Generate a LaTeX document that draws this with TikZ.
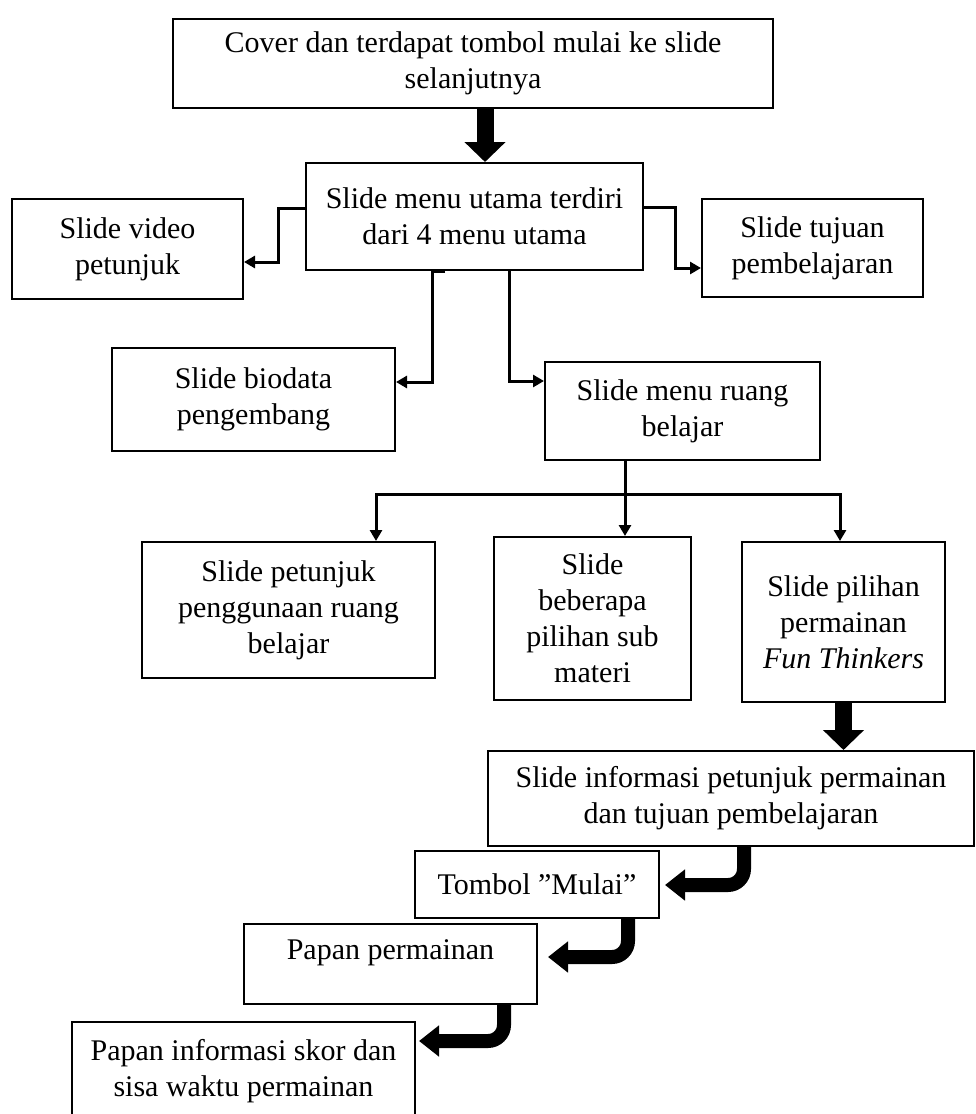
\documentclass[tikz,border=0pt]{standalone}
\usepackage{fontspec}
\setmainfont{Liberation Serif}
\usetikzlibrary{arrows.meta,calc}
\begin{document}
\begin{tikzpicture}[x=0.5pt,y=-0.5pt,
  box/.style={draw=black, line width=1pt, align=center, inner sep=0pt,
    font=\fontsize{15}{18}\selectfont},
  thinarr/.style={line width=1.5pt, -{Triangle[width=6pt,length=5.5pt]}},
  bigarr/.style={line width=8.5pt, -{Triangle[width=20pt,length=10pt]}},
  bentarr/.style={line width=7pt, rounded corners=8pt, -{Triangle[width=15pt,length=10pt]}}]
\useasboundingbox (0,0) rectangle (975,1114);

% boxes
\node[box, minimum width=300pt, minimum height=44.5pt] (cover) at (473,63.5)
  {Cover dan terdapat tombol mulai ke slide\\selanjutnya};
\node[box, minimum width=168.5pt, minimum height=53.5pt] (menu) at (474.5,216.5)
  {Slide menu utama terdiri\\dari 4 menu utama};
\node[box, minimum width=115.5pt, minimum height=50pt] (video) at (127.5,249)
  {Slide video\\petunjuk};
\node[box, minimum width=110.5pt, minimum height=49pt] (tujuan) at (812.5,248)
  {Slide tujuan\\pembelajaran};
\node[box, minimum width=141.5pt, minimum height=51.5pt] (biodata) at (253.5,399.5)
  {Slide biodata\\pengembang};
\node[box, minimum width=137.5pt, minimum height=49pt] (ruang) at (682.5,411)
  {Slide menu ruang\\belajar};
\node[box, minimum width=146.5pt, minimum height=68pt] (petunjuk) at (288.5,610)
  {Slide petunjuk\\penggunaan ruang\\belajar};
\node[box, minimum width=98.5pt, minimum height=81.5pt] (sub) at (592.5,618.5)
  {Slide\\beberapa\\pilihan sub\\materi};
\node[box, minimum width=101.5pt, minimum height=80pt] (pilihan) at (843.5,622)
  {Slide pilihan\\permainan\\\textit{Fun Thinkers}};
\node[box, minimum width=243pt, minimum height=47.5pt] (info) at (731,798.5)
  {Slide informasi petunjuk permainan\\dan tujuan pembelajaran};
\node[box, minimum width=122pt, minimum height=33.5pt] (tombol) at (537,884.5)
  {Tombol ”Mulai”};
\node[box, minimum width=146.5pt, minimum height=40pt, text height=10.3pt, text depth=15.3pt] (papan) at (390.5,964)
  {Papan permainan};
\node[box, minimum width=171.5pt, minimum height=49pt] (skor) at (243.5,1071)
  {Papan informasi skor dan\\sisa waktu permainan};

% bend points
\coordinate (cm) at (485,0);
\coordinate (mvA) at (278,208);
\coordinate (mvB) at (278,262);
\coordinate (mtA) at (675,207);
\coordinate (mtB) at (675,268);
\coordinate (mb) at (432,382);
\coordinate (mr) at (509,381);
\coordinate (rb) at (625,494);
\coordinate (rl) at (376,494);
\coordinate (rr) at (840,494);
\coordinate (ib) at (744,885);
\coordinate (tb) at (628,957);
\coordinate (pb) at (504,1041);

% connectors
\draw[bigarr] (cm |- cover.south) -- (cm |- menu.north);
\draw[thinarr] (mvA -| menu.west) -- (mvA) -- (mvB) -- (mvB -| video.east);
\draw[thinarr] (mtA -| menu.east) -- (mtA) -- (mtB) -- (mtB -| tujuan.west);
\draw[thinarr] ([xshift=6.5pt]mb |- menu.south) -- (mb |- menu.south) -- (mb) -- (mb -| biodata.east);
\draw[thinarr] (mr |- menu.south) -- (mr) -- (mr -| ruang.west);
\draw[thinarr] (rb |- ruang.south) -- (rb |- sub.north);
\draw[thinarr, {Triangle[width=6pt,length=5.5pt]}-{Triangle[width=6pt,length=5.5pt]}]
  (rl |- petunjuk.north) -- (rl) -- (rr) -- (rr |- pilihan.north);
\draw[bigarr] (pilihan.south) -- (pilihan.south |- info.north);
\draw[bentarr, shorten >=2.5pt] (ib |- info.south) -- (ib) -- (ib -| tombol.east);
\draw[bentarr, shorten >=5pt] (tb |- tombol.south) -- (tb) -- (tb -| papan.east);
\draw[bentarr, shorten >=1.5pt] (pb |- papan.south) -- (pb) -- (pb -| skor.east);
\end{tikzpicture}
\end{document}
